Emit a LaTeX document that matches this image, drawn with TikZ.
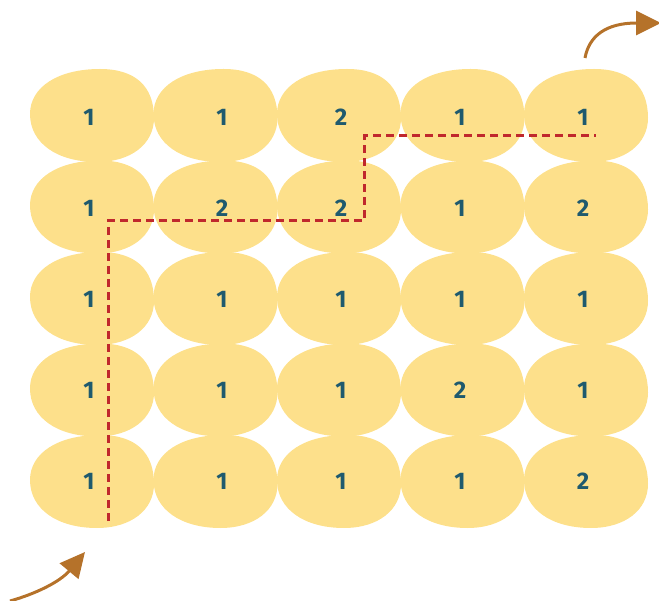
\documentclass[tikz,border=0pt]{standalone}
\usepackage{fontspec}
\setmainfont{Fira Sans}
\usetikzlibrary{arrows.meta}
\definecolor{blobc}{HTML}{FDE08B}
\definecolor{numc}{HTML}{1F5A6E}
\definecolor{pathc}{HTML}{C0282D}
\definecolor{arrc}{HTML}{B5722A}
\tikzset{
  num/.style={text=numc, font=\fontsize{24}{24}\selectfont\bfseries, inner sep=0pt},
  route/.style={pathc, line width=3pt, dash pattern=on 8pt off 5pt},
  bend arrow/.style={arrc, line width=3pt, -{Triangle[length=25pt,width=24pt]}},
}
\newcommand{\myblob}[2]{%
  \fill[blobc, shift={(#1,#2)}] (8,-47) .. controls (43,-47) and (62,-30) .. (62,2)
    .. controls (62,28) and (39,46) .. (5,46)
    .. controls (-35,46) and (-62,27) .. (-62,-2)
    .. controls (-62,-29) and (-34,-47) .. cycle;}
\begin{document}
\begin{tikzpicture}[x=1pt,y=-1pt]
\useasboundingbox (0,0) rectangle (659,601);
% blobs
\foreach \c in {0,...,4}{
  \foreach \r in {0,...,4}{
    \pgfmathsetmacro{\cx}{92+123.5*\c}
    \pgfmathsetmacro{\cy}{116+91.5*\r}
    \myblob{\cx}{\cy}
  }
}
% numbers
\def\colx{{89,222,341,460,583}}
\foreach \row/\vals in {0/{1,1,2,1,1},1/{1,2,2,1,2},2/{1,1,1,1,1},3/{1,1,1,2,1},4/{1,1,1,1,2}}{
  \foreach \v [count=\k from 0] in \vals {
    \pgfmathsetmacro{\nx}{\colx[\k]}
    \pgfmathsetmacro{\ny}{117+91*\row}
    \node[num] (n\row\k) at (\nx,\ny) {\v};
  }
}
% route
\coordinate (p0) at (108,521);
\coordinate (p1) at (108,221);
\coordinate (p2) at (364,221);
\coordinate (p3) at (364,136);
\coordinate (p4) at (596,136);
\draw[route] (p0) -- (p1) -- (p2) -- (p3) -- (p4);
% arrows
\coordinate (a0) at (10,601);
\coordinate (a1) at (85,552);
\draw[bend arrow] (a0) .. controls (35,594) and (60,582) .. (a1);
\coordinate (b0) at (585,58);
\coordinate (b1) at (661,23);
\draw[bend arrow] (b0) .. controls (589,36) and (606,23) .. (b1);
\end{tikzpicture}
\end{document}
